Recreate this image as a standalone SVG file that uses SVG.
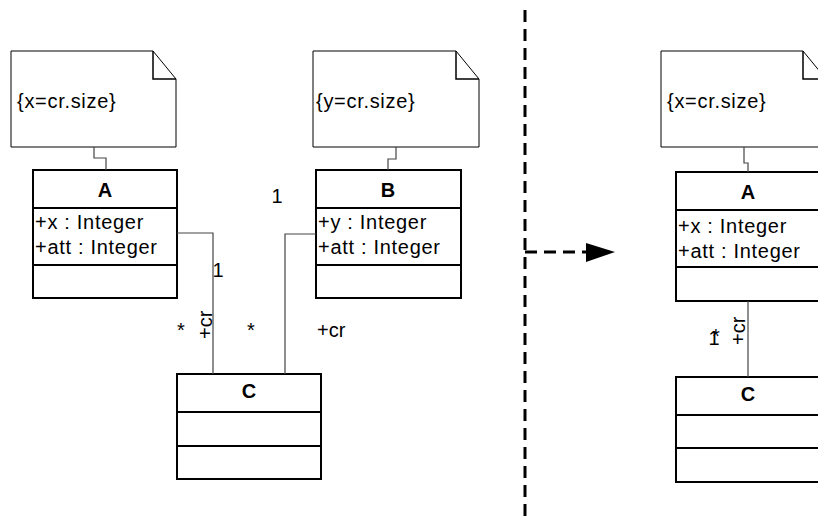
<svg xmlns="http://www.w3.org/2000/svg" width="818" height="520" viewBox="0 0 818 520">
<style>
text{font-family:"Liberation Sans",Arial,sans-serif;font-size:20px;fill:#000}
.t{font-weight:bold;text-anchor:middle}
.attr{letter-spacing:0.7px}
.cls{fill:#fff;stroke:#000;stroke-width:2}
.sep{stroke:#000;stroke-width:2;fill:none}
.note{fill:#fff;stroke:#000;stroke-width:1}
.fold{fill:none;stroke:#000;stroke-width:1.5}
.con{fill:none;stroke:#444;stroke-width:1.2}
.lbl{text-anchor:middle}
.dash{fill:none;stroke:#000;stroke-width:3;stroke-dasharray:12 7}
</style>
<rect width="818" height="520" fill="#fff"/>
<g id="noteA">
<path class="note" d="M11,51 H153 L176,79 V147 H11 Z"/>
<path class="fold" d="M153,51 V79 H176"/>
<text class="attr" x="17" y="108">{x=cr.size}</text>
</g>
<g id="noteB">
<path class="note" d="M313,51 H456 L479,79 V147 H313 Z"/>
<path class="fold" d="M456,51 V79 H479"/>
<text class="attr" x="316" y="108">{y=cr.size}</text>
</g>
<g id="noteA2">
<path class="note" d="M661,51 H803 L826,79 V147 H661 Z"/>
<path class="fold" d="M803,51 V79 H826"/>
<text class="attr" x="667" y="108">{x=cr.size}</text>
</g>
<g id="classA">
<rect class="cls" x="33" y="170" width="144" height="128"/>
<path class="sep" d="M33,208 H177 M33,265 H177"/>
<text class="t" x="105" y="197">A</text>
<text class="attr" x="35" y="229">+x : Integer</text>
<text class="attr" x="35" y="254">+att : Integer</text>
</g>
<g id="classB">
<rect class="cls" x="316" y="170" width="145" height="128"/>
<path class="sep" d="M316,208 H461 M316,265 H461"/>
<text class="t" x="388" y="197">B</text>
<text class="attr" x="318" y="229">+y : Integer</text>
<text class="attr" x="318" y="254">+att : Integer</text>
</g>
<g id="classC">
<rect class="cls" x="177" y="374" width="144" height="105"/>
<path class="sep" d="M177,412 H321 M177,446 H321"/>
<text class="t" x="249" y="398">C</text>
</g>
<g id="classA2">
<rect class="cls" x="676" y="172" width="150" height="129"/>
<path class="sep" d="M676,210 H826 M676,267 H826"/>
<text class="t" x="748" y="199">A</text>
<text class="attr" x="678" y="233">+x : Integer</text>
<text class="attr" x="678" y="258">+att : Integer</text>
</g>
<g id="classC2">
<rect class="cls" x="676" y="377" width="150" height="105"/>
<path class="sep" d="M676,415 H826 M676,448 H826"/>
<text class="t" x="748" y="401">C</text>
</g>
<g id="connectors">
<path class="con" d="M94,147 V158 H106 V170"/>
<path class="con" d="M396,147 V159 H388 V170"/>
<path class="con" d="M744,147 V163 H748 V172"/>
<path class="con" d="M177,233 H213 V374"/>
<path class="con" d="M316,234 H285 V374"/>
<path class="con" d="M748,301 V377"/>
<path class="dash" d="M525,10 V520"/>
<path class="dash" d="M525,252 H590"/>
<polygon points="586,243 615,252 586,262" fill="#000"/>
</g>
<g id="labels">
<text class="lbl" x="277" y="203">1</text>
<text class="lbl" x="218" y="277">1</text>
<text class="lbl" x="181" y="337">*</text>
<text class="lbl" x="251" y="337">*</text>
<text x="317" y="337">+cr</text>
<text transform="translate(212,339) rotate(-90)">+cr</text>
<text transform="translate(745,345) rotate(-90)">+cr</text>
<text class="lbl" x="716" y="343">*</text>
<text class="lbl" x="714" y="345">1</text>
</g>
</svg>
